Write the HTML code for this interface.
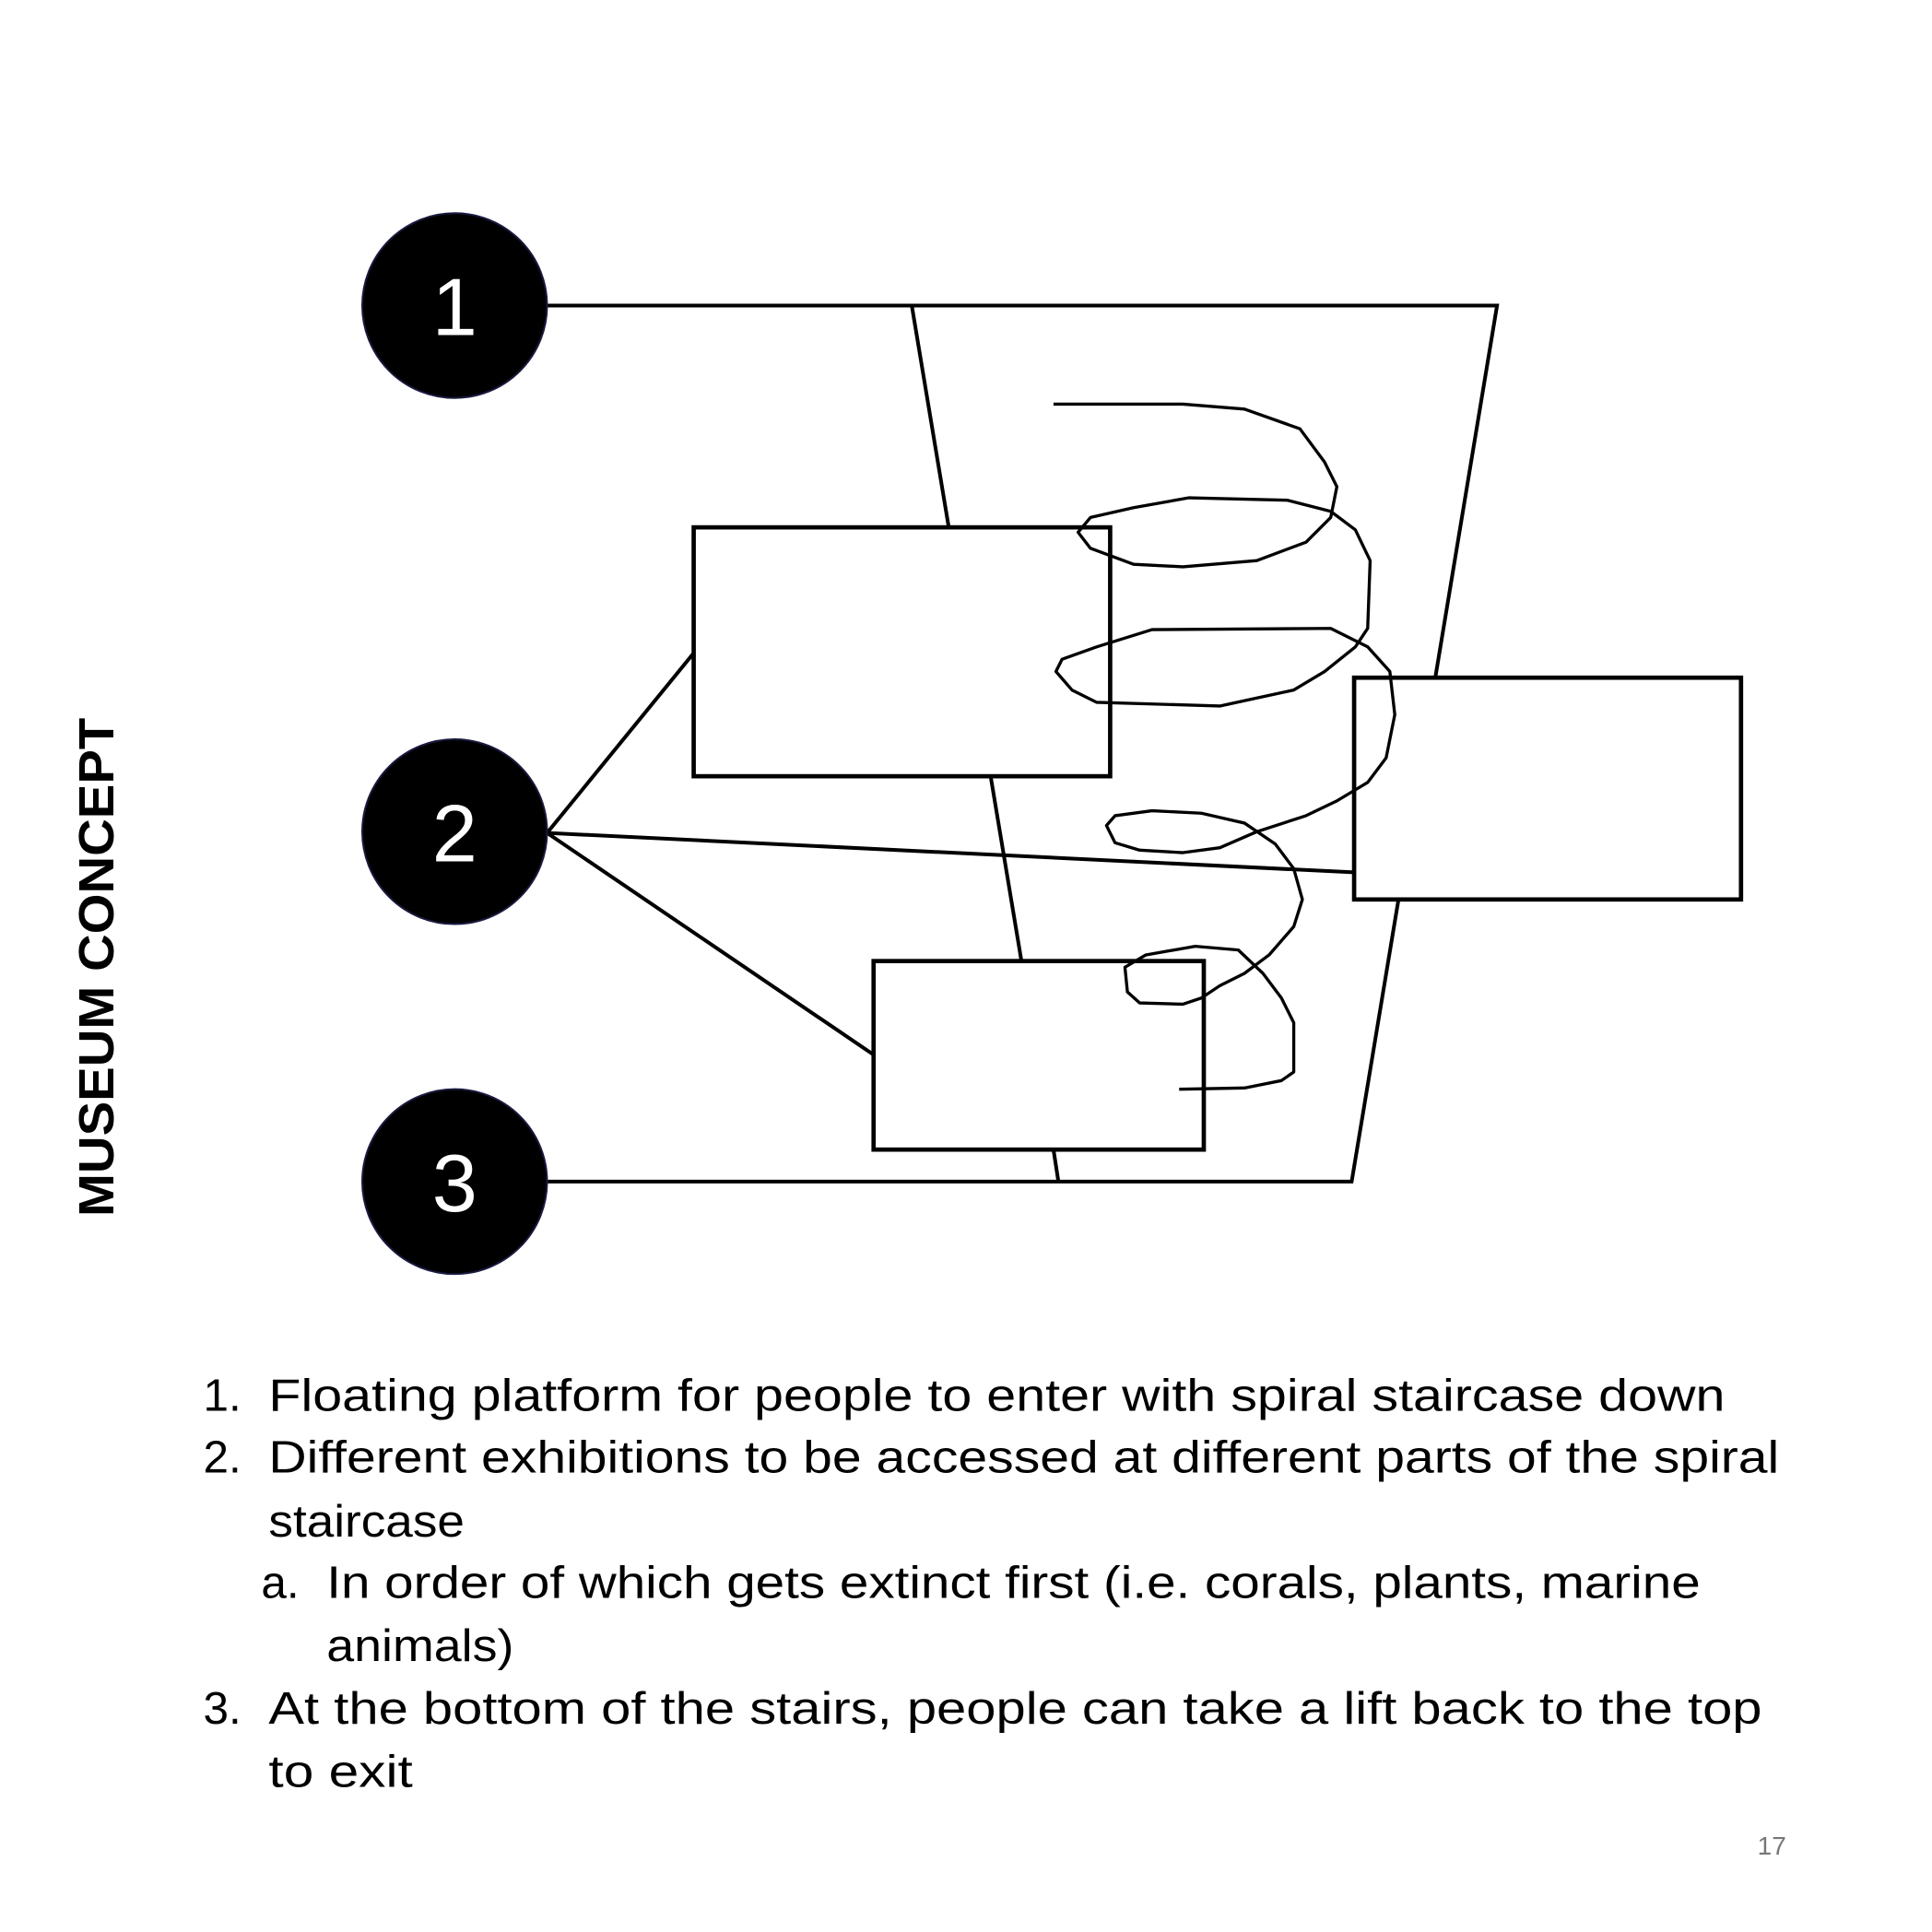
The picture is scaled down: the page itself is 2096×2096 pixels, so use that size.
<!DOCTYPE html>
<html><head><meta charset="utf-8"><style>
html,body{margin:0;padding:0;background:#fff}
svg{display:block}
</style></head><body>
<svg width="2096" height="2096" viewBox="0 0 1568 1568" xmlns="http://www.w3.org/2000/svg">
<rect width="1568" height="1568" fill="#fff"/>
<g stroke="#000" stroke-width="3" fill="none">
<polyline points="444,248 1215,248 1097,959 444,959"/>
<line x1="740" y1="248" x2="770" y2="428"/>
<line x1="804" y1="630" x2="829" y2="780"/>
<line x1="855" y1="933" x2="859" y2="959"/>
<line x1="444" y1="676" x2="563" y2="530"/>
<line x1="444" y1="676" x2="1099" y2="708"/>
<line x1="444" y1="676" x2="709" y2="856"/>
</g>
<g stroke="#000" stroke-width="3.5" fill="#fff">
<rect x="563" y="428" width="338" height="202"/>
<rect x="1099" y="550" width="314" height="180"/>
<rect x="709" y="780" width="268" height="153"/>
</g>
<polyline fill="none" stroke="#000" stroke-width="2.5" stroke-linejoin="round" points="855,328 960,328 1010,332 1055,348 1075,375 1085,395 1080,420 1060,440 1020,455 960,460 920,458 885,445 875,432 885,420 920,412 965,404 1045,406 1080,415 1100,430 1112,455 1110,510 1100,525 1075,545 1050,560 990,573 890,570 870,560 857,545 862,535 890,525 935,511 1080,510 1110,525 1128,545 1132,580 1125,615 1110,635 1085,650 1060,662 1020,675 990,688 960,692 925,690 905,684 898,670 905,662 935,658 975,660 1010,668 1035,685 1050,705 1057,730 1050,752 1030,775 1010,790 990,800 975,810 960,815 925,814 915,805 913,785 930,775 970,768 1005,771 1025,790 1040,810 1050,830 1050,870 1040,877 1010,883 957,884"/>
<g fill="#000" stroke="#1a1a40" stroke-width="1.5">
<circle cx="369" cy="248" r="75"/>
<circle cx="369" cy="675" r="75"/>
<circle cx="369" cy="959" r="75"/>
</g>
<g fill="#fff" font-family="Liberation Sans, sans-serif" font-size="66" text-anchor="middle">
<text x="369" y="272">1</text>
<text x="369" y="699">2</text>
<text x="369" y="983">3</text>
</g>
<text transform="translate(92,785) rotate(-90)" text-anchor="middle" font-family="Liberation Sans, sans-serif" font-weight="bold" font-size="40" textLength="405" lengthAdjust="spacingAndGlyphs">MUSEUM CONCEPT</text>
<g font-family="Liberation Sans, sans-serif" font-size="37" fill="#000">
<text x="165" y="1145">1.</text>
<text x="218" y="1145" textLength="1182" lengthAdjust="spacingAndGlyphs">Floating platform for people to enter with spiral staircase down</text>
<text x="165" y="1195">2.</text>
<text x="218" y="1195" textLength="1226" lengthAdjust="spacingAndGlyphs">Different exhibitions to be accessed at different parts of the spiral</text>
<text x="218" y="1247" textLength="159" lengthAdjust="spacingAndGlyphs">staircase</text>
<text x="212" y="1297">a.</text>
<text x="265" y="1297" textLength="1115" lengthAdjust="spacingAndGlyphs">In order of which gets extinct first (i.e. corals, plants, marine</text>
<text x="265" y="1348" textLength="152" lengthAdjust="spacingAndGlyphs">animals)</text>
<text x="165" y="1399">3.</text>
<text x="218" y="1399" textLength="1212" lengthAdjust="spacingAndGlyphs">At the bottom of the stairs, people can take a lift back to the top</text>
<text x="218" y="1450" textLength="117" lengthAdjust="spacingAndGlyphs">to exit</text>
</g>
<text x="1438" y="1505" text-anchor="middle" font-family="Liberation Sans, sans-serif" font-size="21" fill="#777">17</text>
</svg>
</body></html>
